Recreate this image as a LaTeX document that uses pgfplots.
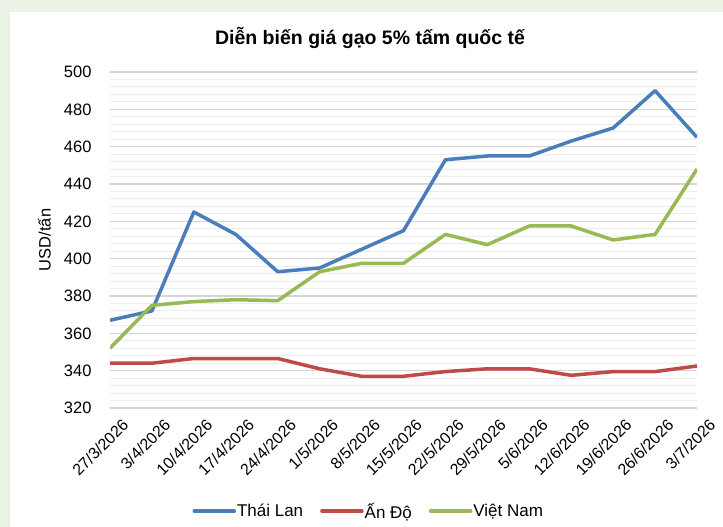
\documentclass[border=0pt]{standalone}
\usepackage{fontspec}
\setmainfont{Liberation Sans}
\usepackage{pgfplots}
\pgfplotsset{compat=1.18}
\definecolor{bgout}{HTML}{EAF2E6}
\definecolor{thai}{HTML}{4A7EBB}
\definecolor{an}{HTML}{BE4B48}
\definecolor{vn}{HTML}{98B954}
\begin{document}
\begin{tikzpicture}[x=1pt,y=1pt]
\fill[bgout] (0,0) rectangle (723,527);
\fill[white] (10,0) rectangle (723,515);
\begin{axis}[
  at={(110pt,119pt)}, anchor=south west, scale only axis,
  width=587pt, height=336pt,
  xmin=0, xmax=14, ymin=320, ymax=500,
  ytick={320,340,...,500}, xtick={0,...,14},
  xticklabels={27/3/2026,3/4/2026,10/4/2026,17/4/2026,24/4/2026,1/5/2026,8/5/2026,15/5/2026,22/5/2026,29/5/2026,5/6/2026,12/6/2026,19/6/2026,26/6/2026,3/7/2026},
  /pgf/number format/assume math mode=true,
  axis line style={draw=none}, major tick length=0pt, minor tick length=0pt,
  ymajorgrids, yminorgrids, minor y tick num=4,
  major grid style={draw=black!17, line width=1.3pt},
  minor grid style={draw=black!7, line width=1pt},
  yticklabel style={font=\fontsize{16.5}{18}\selectfont, xshift=-15pt},
  xticklabel style={font=\fontsize{16}{18}\selectfont, rotate=45, anchor=north east, xshift=2pt, yshift=-14pt, inner sep=1pt},
  title={\textbf{Diễn biến giá gạo 5\% tấm quốc tế}},
  title style={at={(axis description cs:0.443,1.083)}, anchor=center, font=\fontsize{19.5}{22}\selectfont},
  ylabel={USD/tấn},
  ylabel style={at={(axis description cs:-0.112,0.5)}, anchor=center, font=\fontsize{16.5}{18}\selectfont},
  legend style={at={(axis description cs:0.440,-0.307)}, anchor=center, draw=none, fill=none,
    legend columns=3, font=\fontsize{17}{19}\selectfont,
    /tikz/every even column/.append style={column sep=16pt},
    nodes={inner xsep=1pt}},
  legend image code/.code={\draw[#1, line width=3.5pt, line cap=round] (0pt,0pt) -- (40pt,0pt);},
  every axis plot/.append style={line width=3.5pt, line join=round, no markers},
]
\addplot[thai] coordinates {(0,367) (1,372) (2,425) (3,413) (4,393) (5,395) (6,405) (7,415) (8,453) (9,455) (10,455) (11,463) (12,470) (13,490) (14,465)};
\addlegendentry{Thái Lan}
\addplot[an] coordinates {(0,344) (1,344) (2,346.5) (3,346.5) (4,346.5) (5,341) (6,337) (7,337) (8,339.5) (9,341) (10,341) (11,337.5) (12,339.5) (13,339.5) (14,342.5)};
\addlegendentry{Ấn Độ}
\addplot[vn] coordinates {(0,352) (1,375) (2,377) (3,378) (4,377.5) (5,393) (6,397.5) (7,397.5) (8,413) (9,407.5) (10,417.5) (11,417.5) (12,410) (13,413) (14,448)};
\addlegendentry{Việt Nam}
\end{axis}
\end{tikzpicture}
\end{document}
